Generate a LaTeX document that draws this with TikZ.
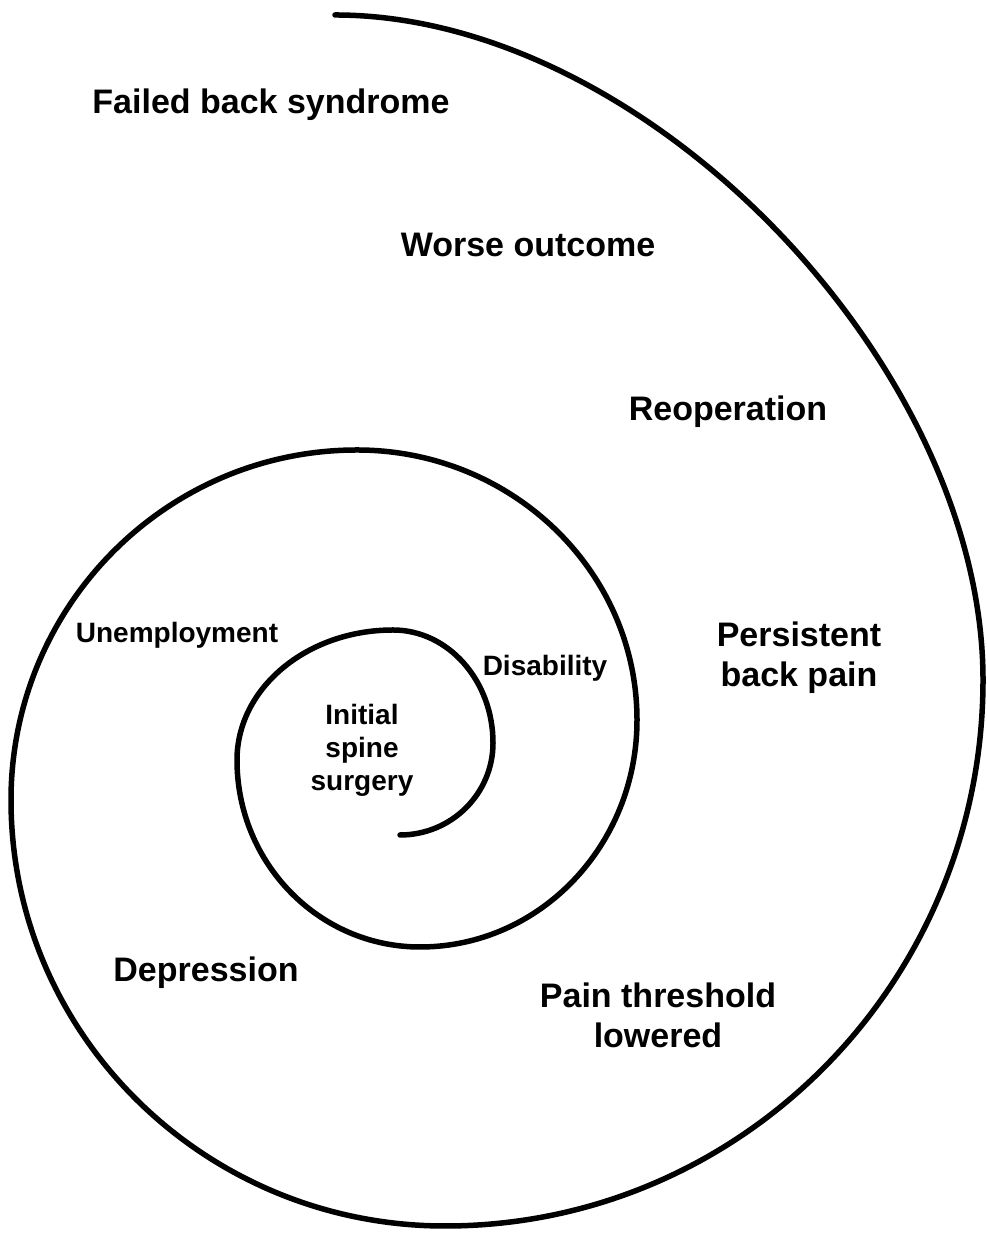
\documentclass[tikz,border=0pt]{standalone}
\usepackage{fontspec}
\setmainfont{Liberation Sans}
\begin{document}
\begin{tikzpicture}[x=1pt,y=1pt,
  spiral/.style={line width=5.5pt, line cap=round},
  biglabel/.style={font=\fontsize{34}{40}\selectfont\bfseries, align=center, inner sep=0pt},
  smalllabel/.style={font=\fontsize{28}{33}\selectfont\bfseries, align=center, inner sep=0pt}]
\useasboundingbox (0,0) rectangle (986,1233);
\coordinate (s0) at (400,398);
\coordinate (r3) at (983,553);
\coordinate (e) at (335,1218);
\draw[spiral] (s0)
  arc[start angle=-90, end angle=0,   x radius=93,  y radius=92]
  arc[start angle=0,   end angle=90,  x radius=100, y radius=113]
  arc[start angle=90,  end angle=180, x radius=156, y radius=130]
  arc[start angle=180, end angle=270, x radius=183, y radius=187]
  arc[start angle=270, end angle=360, x radius=217, y radius=227]
  arc[start angle=0,   end angle=90,  x radius=280, y radius=270]
  arc[start angle=90,  end angle=180, x radius=346, y radius=350]
  arc[start angle=180, end angle=270, x radius=434, y radius=426]
  arc[start angle=270, end angle=360, x radius=538, y radius=546]
  .. controls (983,866) and (648,1218) .. (e);
\node[biglabel] (fbs) at (271,1128) {Failed back syndrome};
\node[biglabel] (worse) at (528,988) {Worse outcome};
\node[biglabel] (reop) at (728,821) {Reoperation};
\node[biglabel] (persist) at (799,575) {Persistent\\back pain};
\node[smalllabel] (unemp) at (177,598) {Unemployment};
\node[smalllabel] (disab) at (545,565) {Disability};
\node[smalllabel] (init) at (362,483) {Initial\\spine\\surgery};
\node[biglabel] (depr) at (206,260) {Depression};
\node[biglabel] (pain) at (658,218) {Pain threshold\\lowered};
\end{tikzpicture}
\end{document}
